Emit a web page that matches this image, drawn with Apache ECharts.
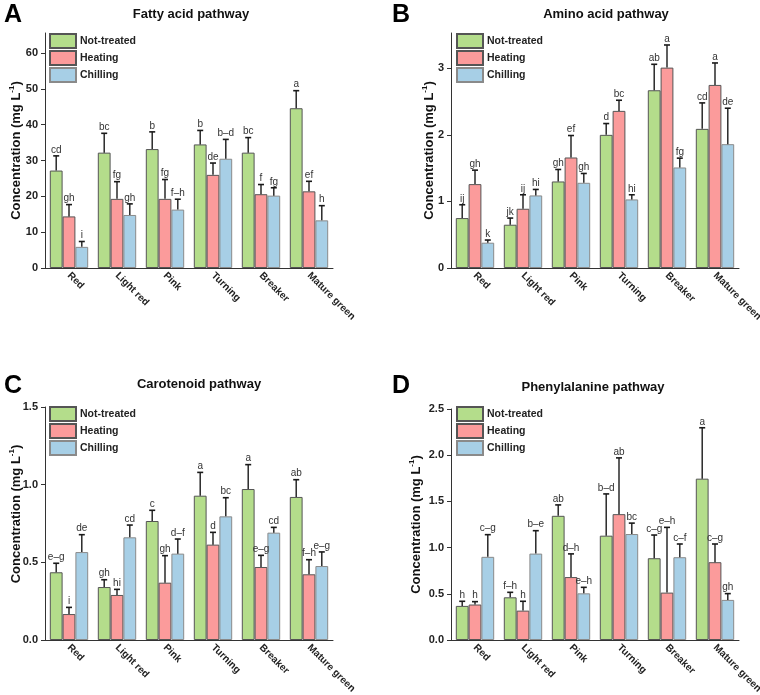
<!DOCTYPE html>
<html><head><meta charset="utf-8">
<script src="https://cdn.jsdelivr.net/npm/echarts@6/dist/echarts.min.js"></script>
<style>html,body{margin:0;padding:0;background:#fff}#c{width:760px;height:695px}</style>
</head><body><div id="c"></div>
<script>
const categories = ['Red','Light red','Pink','Turning','Breaker','Mature green'];
const treatments = ['Not-treated','Heating','Chilling'];

// A: Fatty acid pathway
const fattyNT = [27.2, 32.2, 33.2, 34.5, 32.2, 44.6];
const fattyNTsd = [4.1, 5.4, 4.8, 3.9, 4.2, 4.9];
const fattyH = [14.4, 19.3, 19.3, 26.0, 20.6, 21.4];
const fattyHsd = [3.3, 4.8, 5.4, 3.3, 2.7, 2.8];
const fattyC = [5.9, 14.8, 16.3, 30.5, 20.2, 13.3];
const fattyCsd = [1.5, 3.1, 2.9, 5.4, 2.2, 4.1];
const fattyNTlab = ['cd','bc','b','b','bc','a'];
const fattyHlab = ['gh','fg','fg','de','f','ef'];
const fattyClab = ['i','gh','f–h','b–d','fg','h'];
const fattyTicks = [0, 10, 20, 30, 40, 50, 60];

// B: Amino acid pathway
const aminoNT = [0.75, 0.65, 1.30, 2.00, 2.67, 2.09];
const aminoNTsd = [0.20, 0.10, 0.18, 0.17, 0.39, 0.39];
const aminoH = [1.26, 0.89, 1.66, 2.36, 3.01, 2.75];
const aminoHsd = [0.21, 0.21, 0.33, 0.16, 0.34, 0.33];
const aminoC = [0.38, 1.09, 1.28, 1.03, 1.51, 1.86];
const aminoCsd = [0.04, 0.09, 0.14, 0.07, 0.14, 0.54];
const aminoNTlab = ['ij','jk','gh','d','ab','cd'];
const aminoHlab = ['gh','ij','ef','bc','a','a'];
const aminoClab = ['k','hi','gh','hi','fg','de'];
const aminoTicks = [0, 1, 2, 3];

// C: Carotenoid pathway
const caroNT = [0.436, 0.341, 0.766, 0.929, 0.972, 0.921];
const caroNTsd = [0.058, 0.047, 0.069, 0.150, 0.157, 0.111];
const caroH = [0.167, 0.290, 0.369, 0.614, 0.470, 0.423];
const caroHsd = [0.043, 0.036, 0.174, 0.079, 0.075, 0.094];
const caroC = [0.566, 0.661, 0.556, 0.796, 0.691, 0.476];
const caroCsd = [0.112, 0.079, 0.094, 0.120, 0.034, 0.091];
const caroNTlab = ['e–g','gh','c','a','a','ab'];
const caroHlab = ['i','hi','gh','d','e–g','f–h'];
const caroClab = ['de','cd','d–f','bc','cd','e–g'];
const caroTicks = [0, 0.5, 1.0, 1.5];

// D: Phenylalanine pathway
const pheNT = [0.369, 0.462, 1.344, 1.129, 0.885, 1.746];
const pheNTsd = [0.050, 0.054, 0.118, 0.452, 0.251, 0.551];
const pheH = [0.384, 0.318, 0.681, 1.362, 0.513, 0.842];
const pheHsd = [0.031, 0.101, 0.251, 0.609, 0.706, 0.197];
const pheC = [0.900, 0.935, 0.505, 1.147, 0.896, 0.434];
const pheCsd = [0.240, 0.248, 0.065, 0.118, 0.143, 0.068];
const pheNTlab = ['h','f–h','ab','b–d','c–g','a'];
const pheHlab = ['h','h','d–h','ab','e–h','c–g'];
const pheClab = ['c–g','b–e','e–h','bc','c–f','gh'];
const pheTicks = [0, 0.5, 1.0, 1.5, 2.0, 2.5];

const panelTitles = ['Fatty acid pathway','Amino acid pathway','Carotenoid pathway','Phenylalanine pathway'];
const panelLetters = ['A','B','C','D'];
const yMax = [65.6, 3.53, 1.5, 2.5];
const yInterval = [10, 1, 0.5, 0.5];
const yDecimals = [0, 0, 1, 1];
const yTicks = [fattyTicks, aminoTicks, caroTicks, pheTicks];

const FONT = '"Liberation Sans", Arial, sans-serif';
const colors = ['#b4dd8b', '#fb9b9b', '#a7cfe6'];
const borders = ['#555', '#555', '#8a8a8a'];

const panelData = [
  [[fattyNT, fattyNTsd, fattyNTlab], [fattyH, fattyHsd, fattyHlab], [fattyC, fattyCsd, fattyClab]],
  [[aminoNT, aminoNTsd, aminoNTlab], [aminoH, aminoHsd, aminoHlab], [aminoC, aminoCsd, aminoClab]],
  [[caroNT, caroNTsd, caroNTlab], [caroH, caroHsd, caroHlab], [caroC, caroCsd, caroClab]],
  [[pheNT, pheNTsd, pheNTlab], [pheH, pheHsd, pheHlab], [pheC, pheCsd, pheClab]]
];

const grids = [
  {left: 45, top: 33, width: 288, height: 235, outerBoundsMode: 'none'},
  {left: 451, top: 33, width: 288, height: 235, outerBoundsMode: 'none'},
  {left: 45, top: 407, width: 288, height: 233, outerBoundsMode: 'none'},
  {left: 451, top: 409, width: 288, height: 231, outerBoundsMode: 'none'}
];
const titlePos = [[191, 8], [606, 8], [199, 378], [593, 381]];
const letterPos = [[4, 3], [392, 3], [4, 374], [392, 374]];
const legendPos = [[49, 33], [456, 33], [49, 406], [456, 406]];
const nameGaps = [21, 14, 21, 27];
const namePads = [[0,0,0,0], [0,0,0,0], [0,0,0,19], [0,0,0,0]];

const title = [], legend = [], xAxis = [], yAxis = [], series = [];
for (let p = 0; p < 4; p++) {
  title.push({text: panelTitles[p], left: titlePos[p][0], top: titlePos[p][1], textAlign: 'center', padding: 0,
    textStyle: {fontFamily: FONT, fontSize: 13, fontWeight: 'bold', color: '#111'}});
  title.push({text: panelLetters[p], left: letterPos[p][0], top: letterPos[p][1], padding: 0,
    textStyle: {fontFamily: FONT, fontSize: 25, fontWeight: 'bold', color: '#000'}});
  legend.push({data: treatments, orient: 'vertical', left: legendPos[p][0], top: legendPos[p][1], padding: 0,
    itemWidth: 26, itemHeight: 14, itemGap: 1, icon: 'rect', selectedMode: false,
    textStyle: {fontFamily: FONT, fontSize: 10.5, fontWeight: 'bold', color: '#222', padding: [0,0,0,-1]}});
  xAxis.push({type: 'category', gridIndex: p, data: categories,
    axisLine: {show: true, lineStyle: {color: '#333', width: 1}},
    axisTick: {show: false},
    axisLabel: {rotate: -45, margin: 6, fontFamily: FONT, fontSize: 10, fontWeight: 'bold', color: '#222'}});
  const dec = yDecimals[p], iv = yInterval[p];
  yAxis.push({type: 'value', gridIndex: p, min: 0, max: yMax[p], interval: iv,
    name: 'Concentration (mg L{sup|-1})', nameLocation: 'middle', nameGap: nameGaps[p], nameMoveOverlap: false,
    nameTextStyle: {fontFamily: FONT, fontSize: 13, fontWeight: 'bold', color: '#111', padding: namePads[p],
      rich: {sup: {fontFamily: FONT, fontSize: 8, fontWeight: 'bold', color: '#111', verticalAlign: 'top', padding: [0,0,8,0]}}},
    axisLine: {show: true, lineStyle: {color: '#333', width: 1}},
    axisTick: {show: true, inside: false, length: 4, lineStyle: {color: '#333'}, customValues: yTicks[p]},
    splitLine: {show: false},
    axisLabel: {margin: 7, fontFamily: FONT, fontSize: 11, fontWeight: 'bold', color: '#222', customValues: yTicks[p],
      formatter: v => (Math.abs(v / iv - Math.round(v / iv)) < 1e-6 ? Number(v).toFixed(dec) : '')}});
  for (let k = 0; k < 3; k++) {
    const [vals, sds, labs] = panelData[p][k];
    series.push({type: 'bar', name: treatments[k], xAxisIndex: p, yAxisIndex: p, data: vals,
      barGap: '0%', barCategoryGap: '20%',
      itemStyle: {color: colors[k], borderColor: borders[k], borderWidth: 1}});
    series.push({type: 'custom', name: 'err' + p + k, xAxisIndex: p, yAxisIndex: p, z: 10,
      data: vals.map((v, i) => [i, v, v + sds[i]]),
      renderItem: (params, api) => {
        const i = api.value(0), v = api.value(1), t = api.value(2);
        const b = api.coord([i, v]), tp = api.coord([i, t]);
        const band = api.size([1, 0])[0];
        const bw = band * 0.8 / 3;
        const x = b[0] + (k - 1) * bw;
        return {type: 'group', children: [
          {type: 'line', shape: {x1: x, y1: b[1], x2: x, y2: tp[1]}, style: {stroke: '#1a1a1a', lineWidth: 1.4}},
          {type: 'line', shape: {x1: x - 3, y1: tp[1], x2: x + 3, y2: tp[1]}, style: {stroke: '#1a1a1a', lineWidth: 1.6}},
          {type: 'text', style: {text: labs[params.dataIndex], x: x, y: tp[1] - 1, align: 'center', verticalAlign: 'bottom',
            fill: '#333', fontFamily: FONT, fontSize: 10}}
        ]};
      }});
  }
}

const chart = echarts.init(document.getElementById('c'), null, {renderer: 'canvas'});
chart.setOption({animation: false, backgroundColor: '#fff', title, legend, grid: grids, xAxis, yAxis, series});
</script>
</body></html>
